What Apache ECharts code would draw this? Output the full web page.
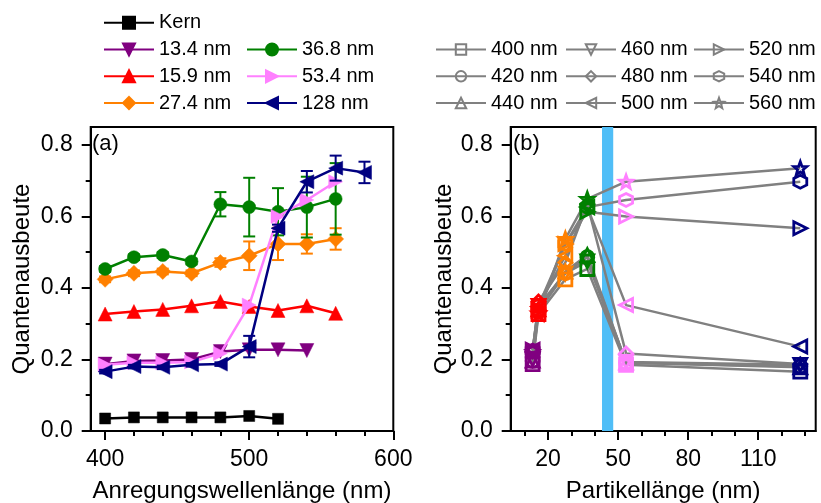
<!DOCTYPE html>
<html><head><meta charset="utf-8">
<script src="https://cdn.jsdelivr.net/npm/echarts@6/dist/echarts.min.js"></script>
<style>html,body{margin:0;padding:0;background:#fff}#c{width:821px;height:503px}</style>
</head><body><div id="c"></div>
<script>
// ---- data (panel a) ----
const wavelengths = [400,420,440,460,480,500,520,540,560,580];
const kern   = [0.035,0.038,0.038,0.038,0.038,0.042,0.034];
const qy134  = [0.187,0.196,0.197,0.200,0.222,0.227,0.227,0.225];
const qy159  = [0.327,0.334,0.340,0.350,0.362,0.348,0.337,0.350,0.329];
const qy274  = [0.424,0.441,0.446,0.441,0.471,0.490,0.523,0.523,0.537];
const err274 = [0.008,0.008,0.008,0.008,0.012,0.040,0.045,0.027,0.030];
const qy368  = [0.453,0.486,0.492,0.474,0.634,0.626,0.613,0.626,0.649];
const err368 = [0.008,0.008,0.008,0.008,0.034,0.082,0.066,0.085,0.100];
const qy534  = [0.185,0.191,0.191,0.193,0.217,0.352,0.600,0.646,0.697];
const qy128  = [0.166,0.180,0.178,0.185,0.187,0.236,0.567,0.697,0.735,0.723];
const err128 = [0.005,0.005,0.005,0.005,0.005,0.030,0.010,0.030,0.035,0.030];
// ---- data (panel b) ----
const particleLengths = [13.4,15.9,27.4,36.8,53.4,128];
const bWavelengths = [400,420,440,460,480,500,520,540,560];
const bandRange = [43.1,47.9];
// ---- tick labels ----
const xTicksA = [400,500,600];
const xMinorA = [420,440,460,480,520,540,560,580];
const xTicksB = [20,50,80,110];
const xMinorB = [10,30,40,60,70,90,100,120,130];
const yTicks = [0,0.2,0.4,0.6,0.8];
const yMinor = [0.1,0.3,0.5,0.7];

const FONT = 'Liberation Sans, Arial, sans-serif';
const colors = ['#800080','#FF0000','#FF8000','#008000','#FF80FF','#000080'];
const GRAY = '#808080';

function starPath(){
  let p = 'path://';
  for (let k=0;k<10;k++){
    const r = k%2===0 ? 5 : 2.1;
    const a = -Math.PI/2 + k*Math.PI/5;
    p += (k===0?'M':'L') + (5+r*Math.cos(a)).toFixed(3) + ',' + (5+r*Math.sin(a)).toFixed(3) + ' ';
  }
  return p + 'Z';
}
const SYM = {
  triDown: 'path://M0,0 L10,0 L5,8.66 Z',
  triLeft: 'path://M0,5 L8.66,0 L8.66,10 Z',
  triRight: 'path://M0,0 L8.66,5 L0,10 Z',
  hex: 'path://M5,0 L9.33,2.5 L9.33,7.5 L5,10 L0.67,7.5 L0.67,2.5 Z',
  star: starPath()
};
const bSymbols = ['rect','circle','triangle',SYM.triDown,'diamond',SYM.triLeft,SYM.triRight,SYM.hex,SYM.star];

function pairs(arr){ return arr.map((v,i)=>[wavelengths[i], v]); }
function triples(arr, err){ return arr.map((v,i)=>[wavelengths[i], v, err[i]]); }

function errRender(params, api){
  const x = api.value(0), y = api.value(1), e = api.value(2);
  const t = api.coord([x, y+e]), b = api.coord([x, y-e]);
  const w = 6, c = api.visual('color');
  const st = {stroke:c, lineWidth:2};
  return {type:'group', children:[
    {type:'line', shape:{x1:t[0],y1:t[1],x2:b[0],y2:b[1]}, style:st},
    {type:'line', shape:{x1:t[0]-w,y1:t[1],x2:t[0]+w,y2:t[1]}, style:st},
    {type:'line', shape:{x1:b[0]-w,y1:b[1],x2:b[0]+w,y2:b[1]}, style:st}
  ]};
}

const grids = [
  {left:90.7, top:127, width:302.6, height:304, show:true, borderColor:'#000', borderWidth:2, backgroundColor:'transparent', containLabel:false, outerBoundsMode:'none'},
  {left:510.7, top:127, width:305, height:304, show:true, borderColor:'#000', borderWidth:2, backgroundColor:'transparent', containLabel:false, outerBoundsMode:'none'}
];

function majorX(grid, min, max, ticks, name){
  return {type:'value', gridIndex:grid, min, max, position:'bottom',
    name, nameLocation:'middle', nameGap:48, nameTextStyle:{fontSize:24, fontFamily:FONT, color:'#000'},
    axisLine:{show:true, onZero:false, lineStyle:{color:'#000', width:2}},
    axisTick:{show:true, customValues:ticks, length:9, lineStyle:{color:'#000', width:2}},
    axisLabel:{show:true, customValues:ticks, margin:17, fontSize:23, fontFamily:FONT, color:'#000'},
    splitLine:{show:false}};
}
function minorX(grid, min, max, ticks){
  return {type:'value', gridIndex:grid, min, max, position:'bottom',
    axisLine:{show:false, onZero:false},
    axisTick:{show:true, customValues:ticks, length:5, lineStyle:{color:'#000', width:2}},
    axisLabel:{show:false}, splitLine:{show:false}};
}
function majorY(grid, gap){
  return {type:'value', gridIndex:grid, min:0, max:0.85, position:'left',
    name:'Quantenausbeute', nameLocation:'middle', nameGap:gap, nameTextStyle:{fontSize:24, fontFamily:FONT, color:'#000'},
    axisLine:{show:true, onZero:false, lineStyle:{color:'#000', width:2}},
    axisTick:{show:true, customValues:yTicks, length:9, lineStyle:{color:'#000', width:2}},
    axisLabel:{show:true, customValues:yTicks, margin:18, fontSize:23, fontFamily:FONT, color:'#000', formatter:v=>v.toFixed(1)},
    splitLine:{show:false}};
}
function minorY(grid){
  return {type:'value', gridIndex:grid, min:0, max:0.85, position:'left',
    axisLine:{show:false, onZero:false},
    axisTick:{show:true, customValues:yMinor, length:5, lineStyle:{color:'#000', width:2}},
    axisLabel:{show:false}, splitLine:{show:false}};
}

const series = [];
const aDefs = [
  ['Kern', kern, '#000000', 'rect', 11],
  ['13.4 nm', qy134, colors[0], SYM.triDown, 14],
  ['15.9 nm', qy159, colors[1], 'triangle', 14],
  ['27.4 nm', qy274, colors[2], 'diamond', 16],
  ['36.8 nm', qy368, colors[3], 'circle', 13],
  ['53.4 nm', qy534, colors[4], SYM.triRight, 14],
  ['128 nm', qy128, colors[5], SYM.triLeft, 14]
];
const errDefs = {'27.4 nm':[qy274, err274], '36.8 nm':[qy368, err368], '128 nm':[qy128, err128]};
aDefs.forEach(([name, arr, col, sym, size], i)=>{
  if (errDefs[name]) {
    series.push({type:'custom', xAxisIndex:0, yAxisIndex:0, renderItem:errRender,
      data:triples(errDefs[name][0], errDefs[name][1]), encode:{x:0,y:1},
      itemStyle:{color:col}, z:2+i, silent:true});
  }
  series.push({type:'line', name, xAxisIndex:0, yAxisIndex:0, data:pairs(arr),
    symbol:sym, symbolSize:size, showSymbol:true,
    lineStyle:{color:col, width:2.5}, itemStyle:{color:col, borderColor:col, borderWidth:0.5},
    z:2+i, animation:false});
});

// band
series.push({type:'custom', xAxisIndex:2, yAxisIndex:2, z:1, silent:true,
  data:[bandRange], encode:{x:[0,1]},
  renderItem:(params, api)=>{
    const p0 = api.coord([api.value(0), 0]);
    const p1 = api.coord([api.value(1), 0]);
    const cs = params.coordSys;
    return {type:'rect', shape:{x:p0[0], y:cs.y, width:p1[0]-p0[0], height:cs.height}, style:{fill:'#50BEF7'}};
  }});

const allParticles = [qy134, qy159, qy274, qy368, qy534, qy128];
bWavelengths.forEach((w, i)=>{
  const data = [];
  particleLengths.forEach((L, k)=>{
    const v = allParticles[k][i];
    if (v !== undefined && v !== null) data.push({value:[L, v], itemStyle:{borderColor:colors[k]}});
  });
  series.push({type:'line', name: w + ' nm', xAxisIndex:2, yAxisIndex:2, data,
    symbol:bSymbols[i], symbolSize:13, showSymbol:true,
    lineStyle:{color:GRAY, width:2.5},
    itemStyle:{color:'rgba(255,255,255,0)', borderColor:GRAY, borderWidth:2.8},
    z:3, animation:false});
});

const legends = [];
function leg(name, left, cy, isB){
  legends.push({data:[name], left, top:cy-10, orient:'horizontal', padding:0, itemGap:0,
    itemWidth:50, itemHeight: isB?13:15, selectedMode:false,
    textStyle:{fontSize:20, fontFamily:FONT, color:'#000'}});
}
leg('Kern', 103, 22.7);
leg('13.4 nm', 103, 49.5); leg('15.9 nm', 103, 76.3); leg('27.4 nm', 103, 103);
leg('36.8 nm', 246, 49.5); leg('53.4 nm', 246, 76.3); leg('128 nm', 246, 103);
const bCols = [435, 565, 693];
const bRows = [49.5, 76.3, 103];
bWavelengths.forEach((w,i)=>{ leg(w + ' nm', bCols[Math.floor(i/3)], bRows[i%3], true); });

const chart = echarts.init(document.getElementById('c'), null, {renderer:'canvas'});
chart.setOption({
  backgroundColor:'#fff',
  animation:false,
  title:[
    {text:'(a)', left:92, top:133, padding:0, textStyle:{fontSize:22, fontWeight:'normal', fontFamily:FONT, color:'#000'}},
    {text:'(b)', left:513, top:133, padding:0, textStyle:{fontSize:22, fontWeight:'normal', fontFamily:FONT, color:'#000'}}
  ],
  legend: legends,
  grid: grids,
  xAxis:[
    majorX(0, 390, 600, xTicksA, 'Anregungswellenlänge (nm)'),
    minorX(0, 390, 600, xMinorA),
    majorX(1, 4, 134.6, xTicksB, 'Partikellänge (nm)'),
    minorX(1, 4, 134.6, xMinorB)
  ],
  yAxis:[ majorY(0, 56), minorY(0), majorY(1, 48), minorY(1) ],
  series
});
</script></body></html>
